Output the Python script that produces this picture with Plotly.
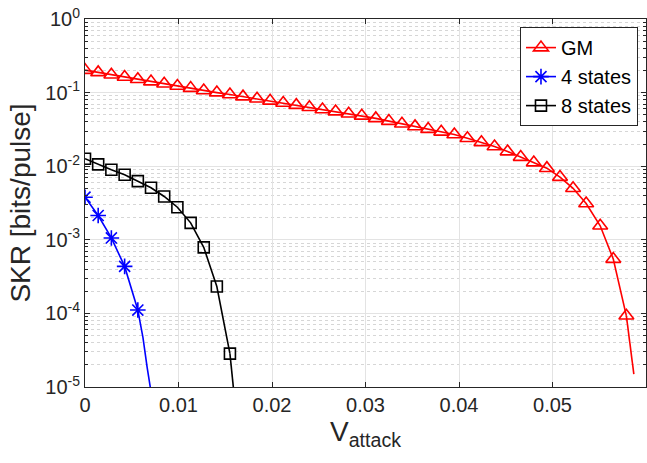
import plotly.graph_objects as go

# ---- data ----
v_gm = [0.0, 0.00141, 0.00282, 0.00424, 0.00565, 0.00706, 0.00847, 0.00988,
        0.0113, 0.0127, 0.0141, 0.0155, 0.0169, 0.0184, 0.0198, 0.0212,
        0.0226, 0.0240, 0.0254, 0.0268, 0.0282, 0.0296, 0.0311, 0.0325,
        0.0339, 0.0353, 0.0367, 0.0381, 0.0395, 0.0409, 0.0424, 0.0438,
        0.0452, 0.0466, 0.0480, 0.0494, 0.0508, 0.0522, 0.0536, 0.0551,
        0.0565, 0.0579]
skr_gm = [0.202, 0.188, 0.175, 0.163, 0.152, 0.141, 0.132, 0.123,
          0.115, 0.107, 0.100, 0.0941, 0.0881, 0.0824, 0.0772, 0.0722,
          0.0675, 0.0632, 0.0590, 0.0552, 0.0516, 0.0483, 0.0446, 0.0410,
          0.0377, 0.0347, 0.0319, 0.0293, 0.0270, 0.0240, 0.0211, 0.0185,
          0.0158, 0.0133, 0.0112, 0.0094, 0.00711, 0.00501, 0.00311, 0.00155,
          0.000547, 0.0000927]
v_gm_tail = [0.0579, 0.0583, 0.0587]
skr_gm_tail = [0.0000927, 0.000040, 0.0000150]

v_4 = [0.0, 0.00141, 0.00282, 0.00424, 0.00565]
skr_4 = [0.00379, 0.00214, 0.00106, 0.000435, 0.000111]
v_4_tail = [0.00565, 0.00620, 0.00665, 0.00695, 0.00710]
skr_4_tail = [0.000111, 0.000047, 0.0000183, 0.0000100, 0.0000080]

v_8 = [0.0, 0.00141, 0.00282, 0.00424, 0.00565, 0.00706, 0.00847, 0.00988,
       0.0113, 0.0127, 0.0141, 0.0155]
skr_8 = [0.01265, 0.01058, 0.00896, 0.00766, 0.00627, 0.00510, 0.00388,
         0.00277, 0.00170, 0.00079, 0.000232, 0.0000284]
v_8_tail = [0.0155, 0.0157, 0.0159]
skr_8_tail = [0.0000284, 0.0000160, 0.0000090]

x_ticks = [0, 0.01, 0.02, 0.03, 0.04, 0.05]
x_ticktext = ["0", "0.01", "0.02", "0.03", "0.04", "0.05"]
y_ticks = [1e-5, 1e-4, 1e-3, 1e-2, 1e-1, 1]
y_ticktext = ["10<sup>-5</sup>", "10<sup>-4</sup>", "10<sup>-3</sup>",
              "10<sup>-2</sup>", "10<sup>-1</sup>", "10<sup>0</sup>"]

FONT = "Liberation Sans, Arial, Helvetica, sans-serif"
AX = "#262626"

fig = go.Figure()

def add_series(name, x, y, xt, yt, color, symbol, size):
    fig.add_trace(go.Scatter(x=xt, y=yt, mode="lines", showlegend=False,
                             line=dict(color=color, width=1.6), hoverinfo="skip"))
    fig.add_trace(go.Scatter(x=x, y=y, mode="lines+markers", name=name,
                             line=dict(color=color, width=1.6),
                             marker=dict(symbol=symbol, size=size, color=color,
                                         line=dict(color=color, width=1.6))))

add_series("GM", v_gm, skr_gm, v_gm_tail, skr_gm_tail, "#ff0000", "triangle-up-open", 13)
add_series("4 states", v_4, skr_4, v_4_tail, skr_4_tail, "#0000ff", "asterisk-open", 13)
add_series("8 states", v_8, skr_8, v_8_tail, skr_8_tail, "#000000", "square-open", 11)

fig.update_layout(
    width=647, height=463,
    margin=dict(l=85, r=1, t=19, b=76),
    paper_bgcolor="white", plot_bgcolor="white",
    font=dict(family=FONT, size=20, color=AX),
    legend=dict(x=0.9857, y=0.978, xanchor="right", yanchor="top",
                bgcolor="white", bordercolor=AX, borderwidth=1,
                font=dict(family=FONT, size=20, color="#000000"),
                tracegroupgap=0, itemwidth=30),
    showlegend=True,
)

fig.update_xaxes(
    range=[0, 0.06], tickvals=x_ticks, ticktext=x_ticktext,
    showline=True, linecolor=AX, linewidth=1, mirror="allticks",
    ticks="inside", ticklen=5, tickcolor=AX, tickwidth=1,
    showgrid=True, gridcolor="#e3e3e3", gridwidth=1, zeroline=False,
    tickfont=dict(size=20, color=AX),
    title=dict(text="V<sub>attack</sub>", font=dict(size=28, color=AX), standoff=6),
)
fig.update_yaxes(
    type="log", range=[-5, 0], tickvals=y_ticks, ticktext=y_ticktext,
    showline=True, linecolor=AX, linewidth=1, mirror="allticks",
    ticks="inside", ticklen=5, tickcolor=AX, tickwidth=1,
    showgrid=True, gridcolor="#e3e3e3", gridwidth=1, zeroline=False,
    tickfont=dict(size=20, color=AX),
    minor=dict(dtick="D1", ticks="inside", ticklen=3, tickcolor=AX,
               showgrid=True, gridcolor="#d6d6d6", griddash="dot", gridwidth=1),
    title=dict(text="SKR [bits/pulse]", font=dict(size=28, color=AX), standoff=6),
)

fig.write_html("out.html")
